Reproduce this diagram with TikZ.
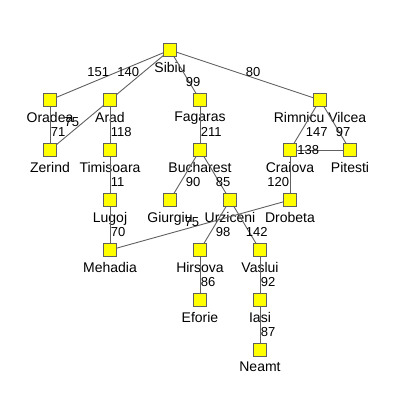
\documentclass[tikz,border=0pt]{standalone}
\usepackage{fontspec}
\setmainfont{Liberation Sans}
\usetikzlibrary{positioning}
\definecolor{roadgray}{RGB}{96,96,96}
\definecolor{cityfill}{RGB}{255,255,0}

\begin{document}
\begin{tikzpicture}[x=1pt,y=-1pt,
city/.style={draw=roadgray,fill=cityfill,minimum size=12.5pt,inner sep=0pt,line width=0.9pt},
every label/.style={inner sep=0pt,yshift=-5pt,font=\fontsize{14}{16}\selectfont},
dist/.style={inner sep=0.5pt,font=\fontsize{13}{15}\selectfont},
up/.style={yshift=-2.5pt},
down/.style={yshift=-1.5pt}]
\useasboundingbox (0,0) rectangle (400,400);
\node[city,label=below:Sibiu] (sibiu) at (170,50) {};
\node[city,label=below:Oradea] (oradea) at (50,100) {};
\node[city,label=below:Arad] (arad) at (110,100) {};
\node[city,label=below:Fagaras] (fagaras) at (200,100) {};
\node[city,label=below:Rimnicu Vilcea] (rimnicu) at (320,100) {};
\node[city,label=below:Zerind] (zerind) at (50,150) {};
\node[city,label=below:Timisoara] (timisoara) at (110,150) {};
\node[city,label=below:Bucharest] (bucharest) at (200,150) {};
\node[city,label=below:Craiova] (craiova) at (290,150) {};
\node[city,label=below:Pitesti] (pitesti) at (350,150) {};
\node[city,label=below:Lugoj] (lugoj) at (110,200) {};
\node[city,label=below:Giurgiu] (giurgiu) at (170,200) {};
\node[city,label=below:Urziceni] (urziceni) at (230,200) {};
\node[city,label=below:Drobeta] (drobeta) at (290,200) {};
\node[city,label=below:Mehadia] (mehadia) at (110,250) {};
\node[city,label=below:Hirsova] (hirsova) at (200,250) {};
\node[city,label=below:Vaslui] (vaslui) at (260,250) {};
\node[city,label=below:Eforie] (eforie) at (200,300) {};
\node[city,label=below:Iasi] (iasi) at (260,300) {};
\node[city,label=below:Neamt] (neamt) at (260,350) {};
\path[draw=roadgray,line width=0.9pt]
(sibiu) edge node[dist,up,above left] {151} (oradea)
(sibiu) edge node[dist,up,above left] {140} (arad)
(sibiu) edge node[dist,down,below right] {99} (fagaras)
(sibiu) edge node[dist,up,above right] {80} (rimnicu)
(oradea) edge node[dist,down,below right] {71} (zerind)
(zerind) edge node[dist,up,above left] {75} (arad)
(arad) edge node[dist,down,below right] {118} (timisoara)
(timisoara) edge node[dist,down,below right] {11} (lugoj)
(lugoj) edge node[dist,down,below right] {70} (mehadia)
(drobeta) edge node[dist,up,above left] {75} (mehadia)
(fagaras) edge node[dist,down,below right] {211} (bucharest)
(rimnicu) edge node[dist,down,below right] {147} (craiova)
(rimnicu) edge node[dist,down,below right] {97} (pitesti)
(craiova) edge node[dist,left] {138} (pitesti)
(craiova) edge node[dist,down,below left] {120} (drobeta)
(bucharest) edge node[dist,down,below right] {90} (giurgiu)
(bucharest) edge node[dist,down,below right] {85} (urziceni)
(urziceni) edge node[dist,down,below right] {98} (hirsova)
(urziceni) edge node[dist,down,below right] {142} (vaslui)
(hirsova) edge node[dist,down,below right] {86} (eforie)
(vaslui) edge node[dist,down,below right] {92} (iasi)
(iasi) edge node[dist,down,below right] {87} (neamt)
;
\end{tikzpicture}
\end{document}
